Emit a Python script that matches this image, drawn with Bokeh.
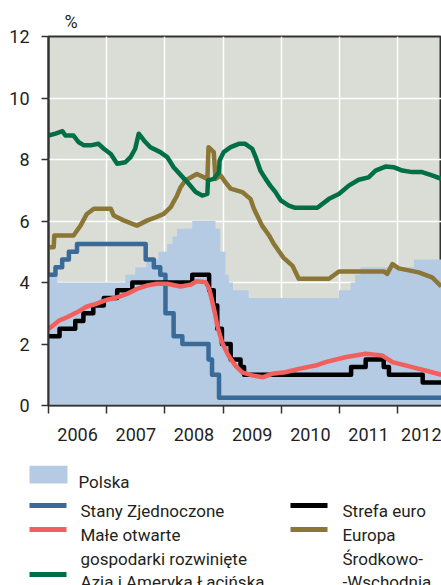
from bokeh.plotting import figure
from bokeh.models import FixedTicker, Range1d
from bokeh.layouts import column
from bokeh.embed import file_html
from bokeh.resources import INLINE
from bokeh.core.properties import value

# ---------------- data ----------------
years = [2006, 2007, 2008, 2009, 2010, 2011, 2012]
y_ticks = [0, 2, 4, 6, 8, 10, 12]

# Polska (reference rate, step)
pl_x = [2006.0, 2006.15, 2007.32, 2007.49, 2007.68, 2007.89, 2008.04, 2008.13, 2008.21,
        2008.47, 2008.87, 2008.95, 2009.04, 2009.10, 2009.17, 2009.44, 2010.99, 2011.19,
        2011.27, 2011.36, 2012.28]
pl_y = [4.25, 4.0, 4.25, 4.5, 4.75, 5.0, 5.25, 5.5, 5.75,
        6.0, 5.75, 5.0, 4.25, 4.0, 3.75, 3.5, 3.75, 4.0,
        4.25, 4.5, 4.75]

# Stany Zjednoczone (step)
us_x = [2006.0, 2006.12, 2006.235, 2006.35, 2006.49, 2007.67, 2007.81, 2007.92, 2008.01,
        2008.15, 2008.30, 2008.75, 2008.81, 2008.93]
us_y = [4.25, 4.5, 4.75, 5.0, 5.25, 4.75, 4.5, 4.25, 3.0,
        2.25, 2.0, 1.5, 1.0, 0.25]

# Strefa euro (step)
ez_x = [2006.0, 2006.19, 2006.46, 2006.60, 2006.77, 2006.95, 2007.18, 2007.44, 2008.47,
        2008.76, 2008.84, 2008.90, 2008.98, 2009.13, 2009.30, 2009.36, 2011.20, 2011.45,
        2011.76, 2011.85, 2012.43]
ez_y = [2.25, 2.5, 2.75, 3.0, 3.25, 3.5, 3.75, 4.0, 4.25,
        3.75, 3.25, 2.5, 2.0, 1.5, 1.25, 1.0, 1.25, 1.5,
        1.25, 1.0, 0.75]

# Male otwarte gospodarki rozwiniete
red_x = [2006.0, 2006.09, 2006.18, 2006.32, 2006.49, 2006.66, 2006.83, 2007.01, 2007.18,
         2007.35, 2007.52, 2007.69, 2007.86, 2008.04, 2008.27, 2008.44, 2008.55, 2008.70,
         2008.76, 2008.81, 2008.86, 2008.90, 2008.98, 2009.09, 2009.21, 2009.33, 2009.50,
         2009.69, 2009.84, 2010.07, 2010.30, 2010.59, 2010.76, 2011.10, 2011.45, 2011.73,
         2011.91, 2012.25, 2012.59, 2012.75]
red_y = [2.49, 2.62, 2.76, 2.87, 3.03, 3.22, 3.31, 3.44, 3.52,
         3.63, 3.79, 3.90, 3.96, 3.96, 3.87, 3.93, 4.04, 4.01,
         3.80, 3.41, 3.00, 2.60, 2.06, 1.63, 1.30, 1.08, 0.98,
         0.92, 1.03, 1.08, 1.19, 1.30, 1.41, 1.57, 1.68, 1.63,
         1.41, 1.25, 1.08, 1.00]

# Azja i Ameryka Lacinska
green_x = [2006.0, 2006.12, 2006.24, 2006.29, 2006.43, 2006.52, 2006.61, 2006.72, 2006.86,
           2006.95, 2007.07, 2007.18, 2007.32, 2007.41, 2007.49, 2007.55, 2007.64, 2007.75,
           2007.92, 2008.04, 2008.15, 2008.27, 2008.41, 2008.53, 2008.64, 2008.73, 2008.74,
           2008.84, 2008.93, 2008.94, 2009.01, 2009.13, 2009.27, 2009.38, 2009.50, 2009.56,
           2009.64, 2009.73, 2009.81, 2009.90, 2009.99, 2010.13, 2010.24, 2010.62, 2010.82,
           2010.99, 2011.16, 2011.33, 2011.50, 2011.62, 2011.79, 2011.93, 2012.08, 2012.25,
           2012.42, 2012.59, 2012.75]
green_y = [8.78, 8.84, 8.92, 8.78, 8.78, 8.56, 8.46, 8.46, 8.51,
           8.35, 8.18, 7.86, 7.91, 8.08, 8.35, 8.84, 8.62, 8.40,
           8.24, 8.08, 7.75, 7.50, 7.21, 6.94, 6.83, 6.88, 7.32,
           7.37, 7.59, 7.97, 8.24, 8.40, 8.51, 8.51, 8.35, 8.08,
           7.64, 7.37, 7.15, 6.94, 6.67, 6.50, 6.43, 6.43, 6.72,
           6.88, 7.15, 7.34, 7.42, 7.64, 7.77, 7.75, 7.64, 7.59,
           7.59, 7.48, 7.37]

# Europa Srodkowo-Wschodnia
olive_x = [2006.0, 2006.09, 2006.10, 2006.43, 2006.55, 2006.66, 2006.78, 2007.07, 2007.12,
           2007.29, 2007.52, 2007.70, 2007.84, 2007.98, 2008.10, 2008.21, 2008.27, 2008.35,
           2008.55, 2008.73, 2008.75, 2008.84, 2008.87, 2008.96, 2009.04, 2009.13, 2009.33,
           2009.47, 2009.53, 2009.67, 2009.79, 2009.87, 2010.04, 2010.19, 2010.30, 2010.82,
           2010.99, 2011.76, 2011.82, 2011.91, 2012.02, 2012.36, 2012.59, 2012.75]
olive_y = [5.15, 5.15, 5.53, 5.53, 5.85, 6.23, 6.40, 6.40, 6.18,
           6.02, 5.85, 6.02, 6.12, 6.23, 6.45, 6.83, 7.10, 7.32,
           7.53, 7.37, 8.40, 8.24, 7.37, 7.48, 7.26, 7.05, 6.94,
           6.72, 6.40, 5.85, 5.53, 5.26, 4.80, 4.55, 4.12, 4.12,
           4.36, 4.36, 4.28, 4.60, 4.46, 4.33, 4.17, 3.87]

# legend
leg_names = ["Polska", "Stany Zjednoczone", "Małe otwarte", "gospodarki rozwinięte",
             "Azja i Ameryka Łacińska", "Strefa euro", "Europa", "Środkowo-", "-Wschodnia"]

# ---------------- style ----------------
FONT = "Roboto"
TXT = "#231f20"
BG = "#d9ddd6"
C_PL = "#b4cbe3"
C_US = "#396a98"
C_EZ = "#000000"
C_RED = "#f25f5c"
C_GREEN = "#006f46"
C_OLIVE = "#8b7635"
AX = "#333333"
LW = 4.5

X0, X1 = 2006.0, 2012.753
MAIN_H = 465

p = figure(width=441, height=MAIN_H, x_range=Range1d(X0, X1), y_range=Range1d(0, 12),
           output_backend="svg", toolbar_location=None, title="%",
           min_border_left=48, min_border_right=0, min_border_top=36,
           min_border_bottom=MAIN_H - 405)
p.background_fill_color = BG
p.border_fill_color = "white"
p.outline_line_color = AX
p.outline_line_width = 2

p.title.align = "left"
p.title.offset = 16
p.title.standoff = 10
p.title.text_font = FONT
p.title.text_font_size = "18px"
p.title.text_font_style = "normal"
p.title.text_color = TXT

def ext(xs, ys):
    return list(xs) + [X1 + 0.1], list(ys) + [ys[-1]]

px_, py_ = ext(pl_x, pl_y)
p.varea_step(x=px_, y1=0, y2=py_, step_mode="after", fill_color=C_PL)

ux, uy = ext(us_x, us_y)
p.step(ux, uy, mode="after", line_width=LW, line_color=C_US, line_join="round")
ex, ey = ext(ez_x, ez_y)
p.step(ex, ey, mode="after", line_width=LW, line_color=C_EZ, line_join="round")
p.line(red_x, red_y, line_width=LW, line_color=C_RED, line_join="round")
p.line(olive_x, olive_y, line_width=LW, line_color=C_OLIVE, line_join="round")
p.line(green_x, green_y, line_width=LW, line_color=C_GREEN, line_join="round")

# axes
xax = p.xaxis[0]
xax.ticker = FixedTicker(ticks=[y + 0.5 for y in years], minor_ticks=years + [years[-1] + 1])
xax.major_label_overrides = {y + 0.5: str(y) for y in years}
xax.major_tick_line_color = None
xax.major_tick_out = 0
xax.major_tick_in = 0
xax.minor_tick_out = 8
xax.minor_tick_in = 0
xax.minor_tick_line_color = AX
xax.minor_tick_line_width = 1.5
xax.major_label_standoff = 14
xax.axis_line_color = AX
xax.axis_line_width = 1.5
xax.major_label_text_font = FONT
xax.major_label_text_font_size = "18px"
xax.major_label_text_color = TXT

yax = p.yaxis[0]
yax.ticker = FixedTicker(ticks=y_ticks)
yax.major_tick_out = 7
yax.major_tick_in = 0
yax.minor_tick_line_color = None
yax.major_tick_line_color = AX
yax.major_tick_line_width = 1.5
yax.major_label_standoff = 12
yax.axis_line_color = AX
yax.axis_line_width = 2
yax.major_label_text_font = FONT
yax.major_label_text_font_size = "18px"
yax.major_label_text_color = TXT

p.xgrid.ticker = FixedTicker(ticks=years[1:])
p.ygrid.ticker = FixedTicker(ticks=y_ticks[1:-1])
for g in (p.xgrid, p.ygrid):
    g.grid_line_color = "white"
    g.grid_line_width = 1.5

# ---------------- legend figure ----------------
LH = 585 - MAIN_H
leg = figure(width=441, height=LH, x_range=Range1d(0, 441), y_range=Range1d(LH, 0),
             output_backend="svg", toolbar_location=None,
             x_axis_location=None, y_axis_location=None,
             min_border=0, min_border_left=0, min_border_right=0,
             min_border_top=0, min_border_bottom=0)
leg.grid.visible = False
leg.outline_line_color = None
leg.background_fill_color = "white"
leg.border_fill_color = "white"

for fig in (p, leg):
    if "frame_align" in fig.properties():
        fig.frame_align = False

leg.quad(left=[29], right=[67], top=[0], bottom=[18], fill_color=C_PL, line_color=None)
leg.segment(x0=[29, 29, 29, 290, 290], x1=[66, 66, 66, 327, 327],
            y0=[40, 64, 109, 40, 64], y1=[40, 64, 109, 40, 64],
            line_color=[C_US, C_RED, C_GREEN, C_EZ, C_OLIVE], line_width=5)
leg.text(x=[78, 80, 80, 80, 80, 342, 342, 342, 342],
         y=[16, 45, 69, 93, 116, 45, 69, 93, 116],
         text=leg_names, text_font=value(FONT), text_font_size=value("17px"),
         text_color=TXT, text_baseline="alphabetic", text_align="left")

layout = column(p, leg)
open("out.html", "w").write(file_html(layout, INLINE))
